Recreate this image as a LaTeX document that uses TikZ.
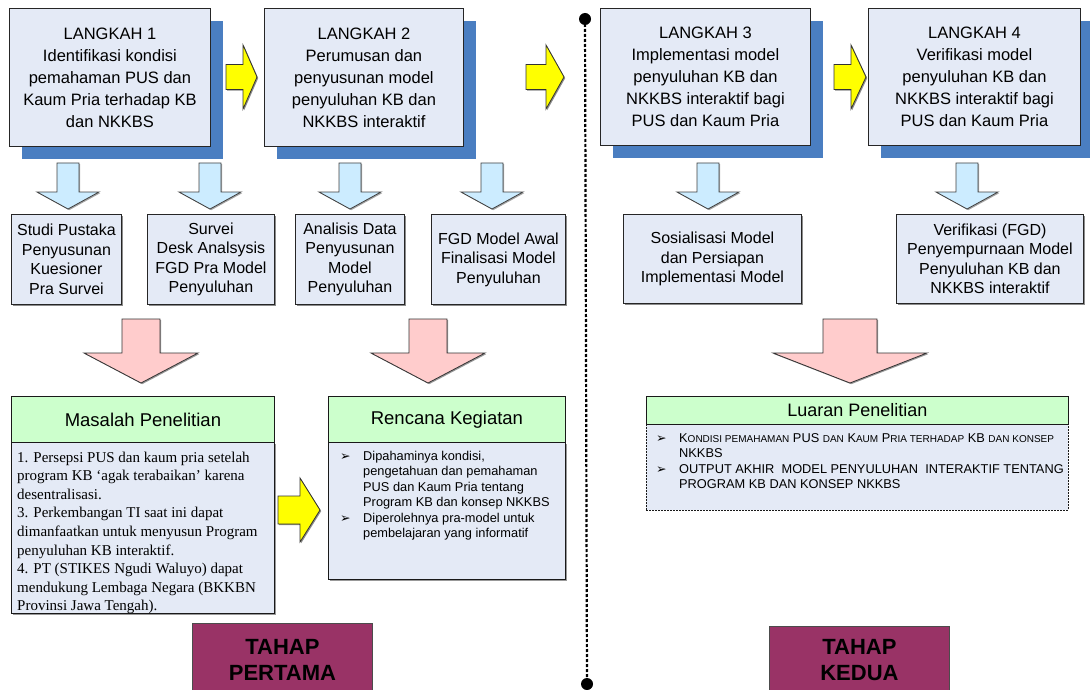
\documentclass[tikz,border=0pt]{standalone}
\usepackage{fontspec}
\setmainfont{Liberation Sans}
\newfontfamily\timesf{Liberation Serif}
\newfontfamily\dejavu{DejaVu Sans}
\usetikzlibrary{shadows}
\definecolor{boxfill}{HTML}{E4EAF6}
\definecolor{shadowblue}{HTML}{4A7EC1}
\definecolor{arrowblue}{HTML}{CCECFF}
\definecolor{arrowpink}{HTML}{FFCCCC}
\definecolor{hdrgreen}{HTML}{CCFFCC}
\definecolor{tahapfill}{HTML}{993366}
\definecolor{arrowyellow}{HTML}{FFFF00}
\newcommand\fsz[2]{\fontsize{#1}{#2}\selectfont}
\newcommand\smc[1]{{\fontsize{10}{15.5}\selectfont #1}}
\newcommand\bul{\makebox[23pt][l]{\dejavu\fontsize{12.5}{12}\selectfont ➢}}
% block arrow pointing down: style, cx, top, head start, tip, shaft half, head half
\newcommand\blkdown[7]{%
 \draw[#1] ({#2-#6},#3) -- ({#2+#6},#3) -- ({#2+#6},#4) -- ({#2+#7},#4) -- (#2,#5) -- ({#2-#7},#4) -- ({#2-#6},#4) -- cycle;}
% block arrow pointing right: style, cy, left, head start, tip, shaft half, head half
\newcommand\blkright[7]{%
 \draw[#1] (#3,{#2-#6}) -- (#4,{#2-#6}) -- (#4,{#2-#7}) -- (#5,#2) -- (#4,{#2+#7}) -- (#4,{#2+#6}) -- (#3,{#2+#6}) -- cycle;}
\tikzset{
  lbox/.style={draw=black!85, fill=boxfill, line width=0.9pt, inner sep=0pt, anchor=north west,
    align=center, font=\fsz{16.5}{22},
    drop shadow={shadow xshift=13pt, shadow yshift=-13pt, fill=shadowblue, opacity=1}},
  sbox/.style={draw=black!85, fill=boxfill, line width=0.9pt, inner sep=0pt, anchor=north west,
    align=center, font=\fsz{16}{19.5},
    drop shadow={shadow xshift=1.5pt, shadow yshift=-1.5pt, fill=black!45, opacity=1}},
  hdr/.style={draw=black!90, fill=hdrgreen, line width=0.9pt, inner sep=0pt, anchor=north west,
    font=\fsz{18.5}{22}},
  body/.style={draw=black!90, fill=boxfill, line width=0.9pt, inner sep=0pt, anchor=north west,
    drop shadow={shadow xshift=1.5pt, shadow yshift=-1.5pt, fill=black!40, opacity=1}},
  dbody/.style={draw=black!90, fill=boxfill, line width=0.8pt, dash pattern=on 2pt off 1pt,
    inner sep=0pt, anchor=north west},
  tahap/.style={draw=black!70, fill=tahapfill, line width=0.9pt, inner sep=0pt, anchor=north west,
    align=center, font=\bfseries\fsz{22}{26}},
  yarrow/.style={draw=black!80, fill=arrowyellow, line width=0.8pt,
    drop shadow={shadow xshift=1.2pt, shadow yshift=-1.2pt, fill=black!45, opacity=1}},
  barrow/.style={draw=black!75, fill=arrowblue, line width=0.8pt,
    drop shadow={shadow xshift=1.2pt, shadow yshift=-1.2pt, fill=black!35, opacity=1}},
  parrow/.style={draw=black!80, fill=arrowpink, line width=0.8pt,
    drop shadow={shadow xshift=1.2pt, shadow yshift=-1.2pt, fill=black!40, opacity=1}},
  txt/.style={inner sep=0pt, anchor=north west, align=left},
  divider/.style={line width=2.2pt, dash pattern=on 3pt off 2pt},
}
\begin{document}
\begin{tikzpicture}[x=1pt,y=-1pt]
\useasboundingbox (0,0) rectangle (1090,690);
\clip (0,0) rectangle (1090,690);

% ---- top row: steps ----
\node[lbox, minimum width=201pt, minimum height=138pt] (l1) at (9,8)
  {LANGKAH 1\\Identifikasi kondisi\\pemahaman PUS dan\\Kaum Pria terhadap KB\\dan NKKBS};
\node[lbox, minimum width=199pt, minimum height=138pt] (l2) at (264,8)
  {LANGKAH 2\\Perumusan dan\\penyusunan model\\penyuluhan KB dan\\NKKBS interaktif};
\node[lbox, minimum width=210pt, minimum height=137pt] (l3) at (600,8)
  {LANGKAH 3\\Implementasi model\\penyuluhan KB dan\\NKKBS interaktif bagi\\PUS dan Kaum Pria};
\node[lbox, minimum width=212pt, minimum height=137pt] (l4) at (868,8)
  {LANGKAH 4\\Verifikasi model\\penyuluhan KB dan\\NKKBS interaktif bagi\\PUS dan Kaum Pria};

% yellow arrows between steps
\blkright{yarrow}{77}{226}{243}{257}{12.5}{32}
\blkright{yarrow}{77}{526}{546}{564}{12.5}{32}
\blkright{yarrow}{77}{834}{851}{866}{12.5}{32}

% ---- blue down arrows ----
\blkdown{barrow}{68}{163}{192}{209}{11}{31}
\blkdown{barrow}{210}{163}{192}{209}{11}{31}
\blkdown{barrow}{350}{163}{192}{209}{11}{31}
\blkdown{barrow}{492}{163}{192}{209}{11}{31}
\blkdown{barrow}{708}{163}{192}{209}{11}{31}
\blkdown{barrow}{967}{163}{192}{209}{11}{31}

% ---- second row: activities ----
\node[sbox, minimum width=110pt, minimum height=90pt] (a1) at (11,214)
  {Studi Pustaka\\Penyusunan\\Kuesioner\\Pra Survei};
\node[sbox, minimum width=127pt, minimum height=90pt] (a2) at (147,214)
  {Survei\\Desk Analsysis\\FGD Pra Model\\Penyuluhan};
\node[sbox, minimum width=109pt, minimum height=90pt] (a3) at (295,214)
  {Analisis Data\\Penyusunan\\Model\\Penyuluhan};
\node[sbox, minimum width=134pt, minimum height=90pt] (a4) at (431,214)
  {FGD Model Awal\\Finalisasi Model\\Penyuluhan};
\node[sbox, minimum width=178pt, minimum height=89pt] (a5) at (623,214)
  {Sosialisasi Model\\dan Persiapan\\Implementasi Model};
\node[sbox, minimum width=187pt, minimum height=89pt] (a6) at (896,214)
  {Verifikasi (FGD)\\Penyempurnaan Model\\Penyuluhan KB dan\\NKKBS interaktif};

% ---- pink arrows ----
\blkdown{parrow}{141}{319}{353}{383}{19}{57}
\blkdown{parrow}{428}{319}{353}{383}{19}{57}
\blkdown{parrow}{850}{319}{353}{383}{27}{77}

% ---- Masalah Penelitian ----
\node[body, minimum width=263pt, minimum height=171pt] (mb) at (11,442) {};
\node[hdr, minimum width=263pt, minimum height=46pt] (mh) at (11,396) {Masalah Penelitian};
\node[txt, font=\timesf\fsz{15}{18.6}] (mt) at (17,451.5)
  {1. Persepsi PUS dan kaum pria setelah\\
   program KB ‘agak terabaikan’ karena\\
   desentralisasi.\\
   3. Perkembangan TI saat ini dapat\\
   dimanfaatkan untuk menyusun Program\\
   penyuluhan KB interaktif.\\
   4. PT (STIKES Ngudi Waluyo) dapat\\
   mendukung Lembaga Negara (BKKBN\\
   Provinsi Jawa Tengah).};

% yellow arrow to Rencana
\blkright{yarrow}{510}{278}{300}{320}{14}{32}

% ---- Rencana Kegiatan ----
\node[body, minimum width=237pt, minimum height=137pt] (rb) at (328,442) {};
\node[hdr, minimum width=237pt, minimum height=46pt] (rh) at (328,396) {Rencana Kegiatan};
\node[txt, font=\fsz{12.8}{15.5}] (rt) at (340,451)
  {\bul Dipahaminya kondisi,\\
   \hspace*{23pt}pengetahuan dan pemahaman\\
   \hspace*{23pt}PUS dan Kaum Pria tentang\\
   \hspace*{23pt}Program KB dan konsep NKKBS\\
   \bul Diperolehnya pra-model untuk\\
   \hspace*{23pt}pembelajaran yang informatif};

% ---- Luaran Penelitian ----
\node[dbody, minimum width=422pt, minimum height=86pt] (lb) at (646,424) {};
\node[hdr, minimum width=422pt, minimum height=28pt, font=\fsz{18}{22}] (lh) at (646,396) {Luaran Penelitian};
\node[txt, font=\fsz{12.8}{15.5}] (lt) at (656,433)
  {\bul K\smc{ONDISI PEMAHAMAN} PUS \smc{DAN} K\smc{AUM} P\smc{RIA TERHADAP} KB \smc{DAN KONSEP}\\
   \hspace*{23pt}NKKBS\\
   \bul OUTPUT AKHIR\ \ MODEL PENYULUHAN\ \ INTERAKTIF TENTANG\\
   \hspace*{23pt}PROGRAM KB DAN KONSEP NKKBS};

% ---- stage boxes ----
\node[tahap, minimum width=180pt, minimum height=72pt] (t1) at (192,623) {TAHAP\\PERTAMA};
\node[tahap, minimum width=180pt, minimum height=68pt] (t2) at (769,626) {TAHAP\\KEDUA};

% ---- divider ----
\coordinate (dtop) at (585,19);
\coordinate (dbot) at (587,684);
\draw[divider] (dtop) -- (dbot);
\fill (dtop) circle (6pt);
\fill (dbot) circle (6pt);
\end{tikzpicture}
\end{document}
